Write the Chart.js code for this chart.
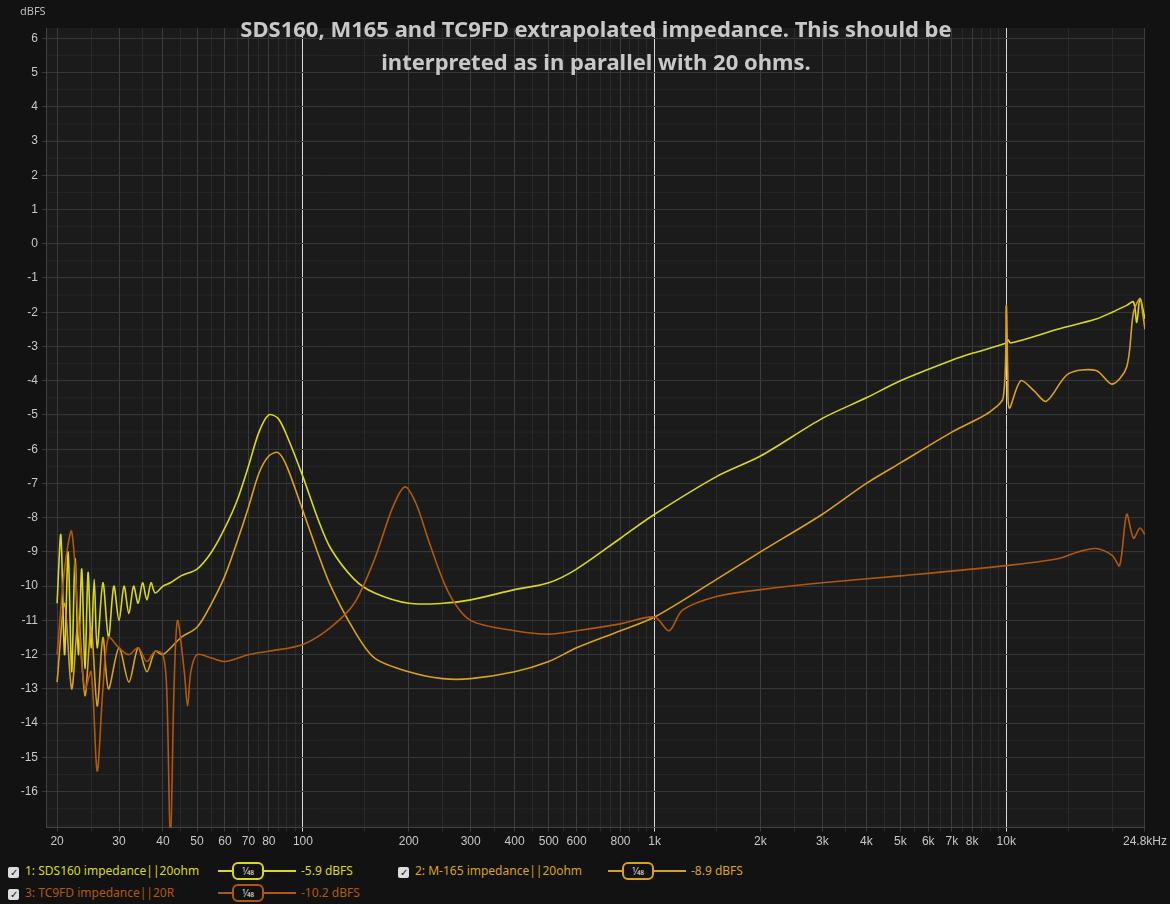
<!DOCTYPE html>
<html><head><meta charset="utf-8">
<script src="https://cdn.jsdelivr.net/npm/chart.js@4"></script>
<style>
body{margin:0;background:#121212;width:1170px;height:904px;overflow:hidden;font-family:"Noto Sans",sans-serif;}
#wrap{position:absolute;left:0;top:0;width:1170px;height:852px;}
#title{position:absolute;left:196px;width:800px;top:12px;text-align:center;color:#c8c8c8;font-weight:bold;font-size:22px;line-height:33px;}
#unit{position:absolute;left:20px;top:3px;color:#bbb;font-size:11px;}
.lg{position:absolute;font-size:12px;color:#d0d0d0;}
.cb{display:inline-block;width:11px;height:11px;background:#ddd;border-radius:2px;vertical-align:-1px;margin-right:6px;color:#111;font-size:10px;line-height:11px;text-align:center}
.oc{position:absolute;width:28px;height:14px;border:2px solid;border-radius:6px;font-size:10px;text-align:center;line-height:14px;color:#ddd}
.ln{position:absolute;height:2px;width:78px}
</style></head><body>
<div id="wrap"><canvas id="c" width="1170" height="852"></canvas></div>
<div id="unit">dBFS</div>
<div id="title">SDS160, M165 and TC9FD extrapolated impedance. This should be interpreted as in parallel with 20 ohms.</div>
<div id="legend"></div>
<script>
const sdsF=[20,20.5,21,21.5,22,22.5,23,23.5,24,24.5,25,25.5,26,27,28,29,30,31,32,33,34,35,36,37,38,40,42,45,50,55,60,65,70,75,80,85,90,100,110,120,140,160,200,250,300,400,500,600,800,1000,1500,2000,3000,4000,5000,7000,8000,10000,10100,10300,14000,18000,20000,22000,23000,23500,24000,24800];
const sdsV=[-10.5,-8.5,-12,-9,-12.5,-9.2,-12,-9.5,-12.4,-9.6,-11.8,-9.8,-11.8,-9.9,-11.5,-10,-11,-10,-10.8,-10,-10.5,-9.9,-10.4,-9.9,-10.2,-10,-9.9,-9.7,-9.5,-9.0,-8.3,-7.5,-6.5,-5.5,-5.0,-5.1,-5.6,-6.8,-8.0,-8.9,-9.8,-10.2,-10.5,-10.5,-10.4,-10.1,-9.9,-9.5,-8.6,-7.9,-6.8,-6.2,-5.1,-4.5,-4.0,-3.4,-3.2,-2.9,-2.8,-2.9,-2.5,-2.2,-2.0,-1.8,-1.7,-2.3,-1.6,-2.2];
const m165F=[20,21,22,23,24,25,26,27,28,30,32,34,36,38,40,45,50,55,60,65,70,75,80,85,90,100,110,120,140,160,200,250,300,400,500,600,800,1000,1500,2000,3000,4000,5000,7000,8000,9000,9800,10000,10100,10200,11000,12000,13000,15000,18000,20000,22000,23000,24000,24400,24800];
const m165V=[-12.8,-10.5,-13,-11,-13.2,-11.2,-13.5,-11.5,-13,-11.8,-12.8,-11.8,-12.5,-11.9,-12,-11.5,-11.2,-10.5,-9.7,-8.7,-7.7,-6.7,-6.2,-6.1,-6.5,-7.8,-9.0,-10.0,-11.3,-12.1,-12.5,-12.7,-12.7,-12.5,-12.2,-11.8,-11.3,-10.9,-9.8,-9.0,-7.9,-7.0,-6.4,-5.5,-5.2,-4.9,-4.5,-1.8,-3.8,-4.8,-4.0,-4.3,-4.6,-3.8,-3.7,-4.1,-3.6,-2.0,-1.6,-2.0,-2.5];
const tcF=[20,21,22,23,24,25,26,27,28,30,32,34,36,38,40,41,42,43,44,46,47,48,50,55,60,70,80,100,120,140,160,180,195,210,230,260,300,400,500,600,800,1000,1100,1200,1500,2000,3000,5000,10000,14000,16000,18000,20000,21000,22000,23000,24000,24800];
const tcV=[-12,-9.5,-8.4,-11,-13,-12.5,-15.4,-13,-11.5,-11.8,-12,-11.8,-12.2,-11.9,-12,-13,-17.5,-13,-11,-12.5,-13.5,-12.5,-12,-12.1,-12.2,-12,-11.9,-11.7,-11.2,-10.5,-9.2,-7.7,-7.1,-7.6,-8.8,-10.2,-11.0,-11.3,-11.4,-11.3,-11.1,-10.9,-11.3,-10.7,-10.3,-10.1,-9.9,-9.7,-9.4,-9.2,-9.0,-8.9,-9.1,-9.4,-7.9,-8.6,-8.3,-8.5];
const xTickLabels={20:'20',30:'30',40:'40',50:'50',60:'60',70:'70',80:'80',100:'100',200:'200',300:'300',400:'400',500:'500',600:'600',800:'800',1000:'1k',2000:'2k',3000:'3k',4000:'4k',5000:'5k',6000:'6k',7000:'7k',8000:'8k',10000:'10k',14000:'14k',18000:'18k',24800:'24.8kHz'};
const cols=['#d8d820','#d9a21a','#b0580e'];
const pts=(f,v)=>f.map((x,i)=>({x:x,y:v[i]}));
const gridVals=[];
[10,100,1000,10000].forEach(d=>{for(let k=1;k<10;k+=0.5){const v=d*k;if(v>=19&&v<=24800)gridVals.push(v);}});
gridVals.push(24800);
new Chart(document.getElementById('c'),{type:'line',
data:{datasets:[
{data:pts(tcF,tcV),borderColor:cols[2],borderWidth:1.6,pointRadius:0,tension:0.3},
{data:pts(m165F,m165V),borderColor:cols[1],borderWidth:1.6,pointRadius:0,tension:0.3},
{data:pts(sdsF,sdsV),borderColor:cols[0],borderWidth:1.6,pointRadius:0,tension:0.3}]},
options:{responsive:false,animation:false,devicePixelRatio:1,
layout:{padding:{top:28,right:22,left:2}},
plugins:{legend:{display:false},tooltip:{enabled:false}},
scales:{
x:{type:'logarithmic',min:18.6,max:24800,
 afterBuildTicks:a=>{a.ticks=gridVals.map(v=>({value:v}));},
 ticks:{autoSkip:false,maxRotation:0,color:'#c8c8c8',font:{size:12},callback:(v)=>xTickLabels[v]||''},
 grid:{color:c=>{const v=c.tick&&c.tick.value;return (v===100||v===1000||v===10000)?'#d8d8d8':(xTickLabels[v]?'#3c3c3c':'#2a2a2a');},lineWidth:1,tickLength:4},border:{color:'#444'}},
y:{min:-17.05,max:6.3,afterBuildTicks:a=>{const t=[];for(let v=-16;v<=6;v++)t.push({value:v});a.ticks=t;},
 afterFit:a=>{a.width=44;},
 ticks:{color:'#c8c8c8',font:{size:12},padding:4},grid:{color:'#363636',tickLength:4},border:{color:'#444'}}
}},
plugins:[{id:'bg',beforeDraw:ch=>{const a=ch.chartArea,x=ch.ctx;x.save();x.fillStyle='#1b1b1b';x.fillRect(a.left,a.top,a.right-a.left,a.bottom-a.top);
 x.strokeStyle='#262626';for(let v=-17;v<6.3;v+=0.5){const y=ch.scales.y.getPixelForValue(v);x.beginPath();x.moveTo(a.left,y);x.lineTo(a.right,y);x.stroke();}x.restore();}}]
});
const L=[[8,862,'1: SDS160 impedance||20ohm',cols[0],'-5.9 dBFS',0],[398,862,'2: M-165 impedance||20ohm',cols[1],'-8.9 dBFS',1],[8,884,'3: TC9FD impedance||20R',cols[2],'-10.2 dBFS',2]];
let h='';L.forEach(l=>{h+=`<div class="lg" style="left:${l[0]}px;top:${l[1]}px;color:${l[3]}"><span class="cb">✓</span>${l[2]}</div>`;
h+=`<div class="ln" style="left:${l[0]+210}px;top:${l[1]+8}px;background:${l[3]}"></div><div class="oc" style="left:${l[0]+224}px;top:${l[1]}px;border-color:${l[3]};background:#121212">1⁄48</div>`;
h+=`<div class="lg" style="left:${l[0]+293}px;top:${l[1]}px;color:${l[3]}">${l[4]}</div>`;});
document.getElementById('legend').innerHTML=h;
</script>
</body></html>
